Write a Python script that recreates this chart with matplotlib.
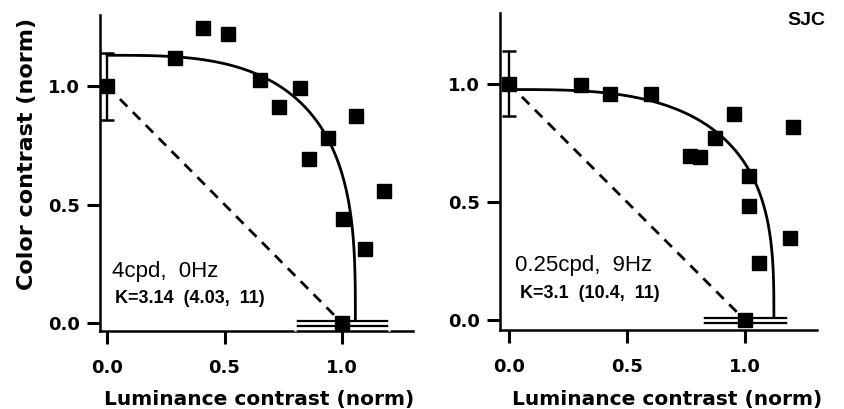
import numpy as np
import matplotlib.pyplot as plt
import matplotlib.patheffects as pe

# Left panel: 4cpd, 0Hz
lum_a = [0.0, 0.289, 0.407, 0.514, 0.653, 0.733, 0.822, 0.858, 0.939, 1.061, 1.178, 1.004, 1.10, 1.0]
col_a = [1.0, 1.12, 1.244, 1.218, 1.025, 0.913, 0.99, 0.694, 0.782, 0.875, 0.556, 0.438, 0.314, 0.0]
yerr_a = [0.144, 0.138]      # lower, upper at (0, 1)
xerr_a = [0.20, 0.20]        # lower, upper at (1, 0)
fit_a = (1.057, 1.13, 3.14)  # luminance axis, color axis, exponent K

# Right panel: 0.25cpd, 9Hz
lum_b = [0.0, 0.304, 0.427, 0.604, 0.955, 1.202, 0.873, 0.767, 0.809, 1.017, 1.017, 1.191, 1.061, 1.0]
col_b = [1.0, 0.997, 0.955, 0.955, 0.873, 0.816, 0.771, 0.693, 0.689, 0.612, 0.485, 0.347, 0.243, 0.0]
yerr_b = [0.137, 0.139]
xerr_b = [0.18, 0.184]
fit_b = (1.123, 0.976, 3.1)

titles = ["4cpd,  0Hz", "0.25cpd,  9Hz"]
ktexts = ["K=3.14  (4.03,  11)", "K=3.1  (10.4,  11)"]
ticks = [0.0, 0.5, 1.0]
tick_labels = ["0.0", "0.5", "1.0"]

fig = plt.figure(figsize=(8.45, 4.09), dpi=100)
ax1 = fig.add_axes([0.1183, 0.1907, 0.3704, 0.7726])
ax2 = fig.add_axes([0.5917, 0.1932, 0.3750, 0.7750])

panels = [
    (ax1, lum_a, col_a, yerr_a, xerr_a, fit_a, (-0.030, 1.302), (-0.034, 1.30), (0.021, 0.194), (0.034, 0.084)),
    (ax2, lum_b, col_b, yerr_b, xerr_b, fit_b, (-0.038, 1.305), (-0.042, 1.30), (0.025, 0.208), (0.047, 0.093)),
]

for i, (ax, lum, col, yerr, xerr, fit, xl, yl, tpos, kpos) in enumerate(panels):
    # fitted superellipse (x/a)^k + (y/b)^k = 1
    a, b, k = fit
    t = np.linspace(0, np.pi / 2, 400)
    ax.plot(a * np.cos(t) ** (2 / k), b * np.sin(t) ** (2 / k), color='k', lw=2.0, zorder=2)

    # linear summation line
    ax.plot([0, 1], [1, 0], color='k', lw=2.0, dashes=(3.8, 2.8), zorder=2)

    # error bar on the color-only point
    ax.errorbar(lum[0], col[0], yerr=[[yerr[0]], [yerr[1]]], fmt='none', ecolor='k',
                elinewidth=1.7, capsize=5, capthick=1.8, zorder=3)

    # hollow error bar on the luminance-only point
    eb = ax.errorbar(lum[-1], col[-1], xerr=[[xerr[0]], [xerr[1]]], fmt='none', ecolor='white',
                     elinewidth=2.0, capsize=5.5, capthick=1.8, zorder=3)
    eb[2][0].set_path_effects([pe.Stroke(linewidth=5.2, foreground='k'), pe.Normal()])
    for cap in eb[1]:
        cap.set_color('k')
        cap.set_zorder(3.5)

    ax.plot(lum, col, 's', color='k', ms=9.5, zorder=4)

    ax.set_xlim(*xl)
    ax.set_ylim(*yl)
    ax.spines['top'].set_visible(False)
    ax.spines['right'].set_visible(False)
    ax.spines['left'].set_linewidth(1.8)
    ax.spines['bottom'].set_linewidth(1.8)
    ax.set_xticks(ticks)
    ax.set_yticks(ticks)
    ax.set_xticklabels(tick_labels, fontweight='bold', fontsize=13)
    ax.set_yticklabels(tick_labels, fontweight='bold', fontsize=13)
    ax.tick_params(axis='x', direction='out', length=9.5, width=2.2, pad=11)
    ax.tick_params(axis='y', direction='out', length=9.5, width=2.2, pad=5)

    ax.text(tpos[0], tpos[1], titles[i], fontsize=16, family='Liberation Sans', va='baseline')
    ax.text(kpos[0], kpos[1], ktexts[i], fontsize=13, family='Liberation Sans',
            fontweight='bold', va='baseline')

fig.text(0.3065, 0.0098, "Luminance contrast (norm)", ha='center', va='baseline',
         fontsize=14.5, fontweight='bold')
fig.text(0.790, 0.0098, "Luminance contrast (norm)", ha='center', va='baseline',
         fontsize=14.5, fontweight='bold')
fig.text(0.032, 0.623, "Color contrast (norm)", ha='center', va='center', rotation=90,
         fontsize=16, fontweight='bold')
fig.text(0.954, 0.951, "SJC", ha='center', va='center', fontsize=14,
         family='Liberation Sans', fontweight='bold')

fig.savefig('out.png', dpi=100)
